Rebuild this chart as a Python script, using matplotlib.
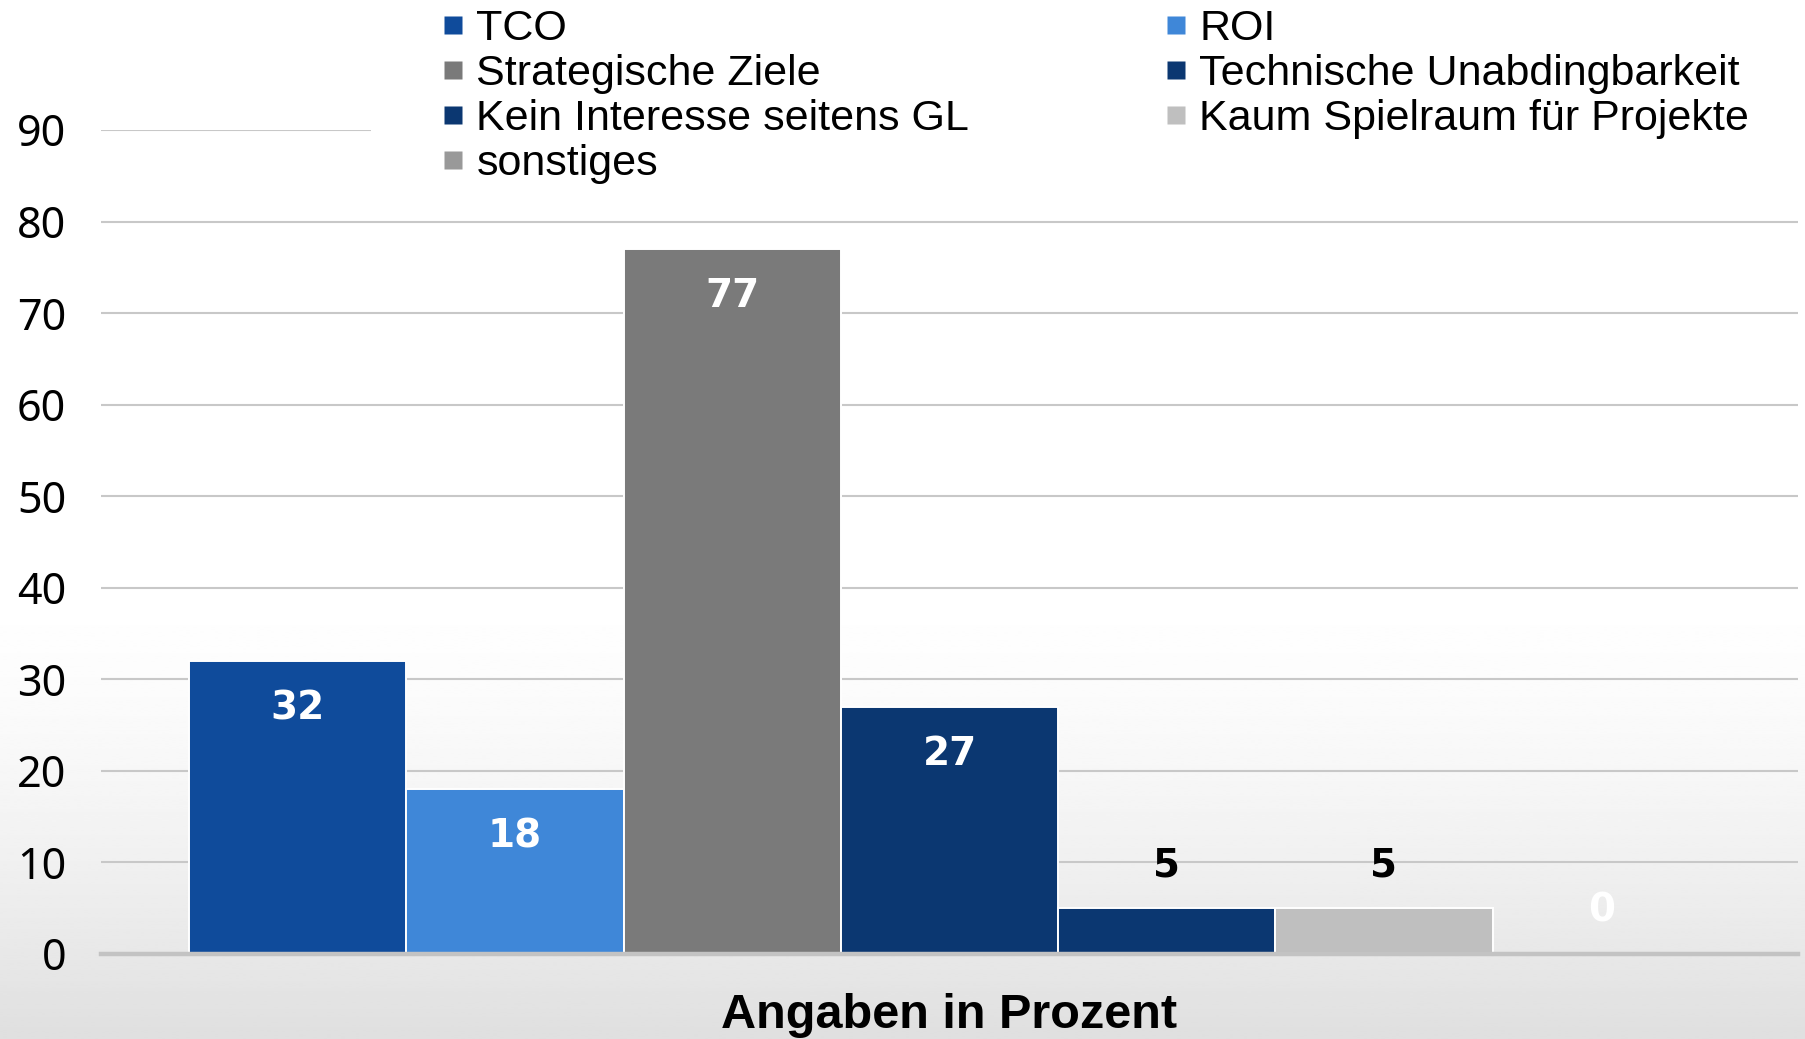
import numpy as np
import matplotlib.pyplot as plt
from matplotlib.lines import Line2D
from matplotlib.patches import Rectangle

W, H = 1805, 1039
DPI = 100

# data
series = [
    "TCO",
    "ROI",
    "Strategische Ziele",
    "Technische Unabdingbarkeit",
    "Kein Interesse seitens GL",
    "Kaum Spielraum für Projekte",
    "sonstiges",
]
values = [32, 18, 77, 27, 5, 5, 0]
colors = ["#0F4B9B", "#3F87D8", "#7A7A7A", "#0B3771", "#0B3771", "#BFBFBF", "#999999"]
label_inside = [True, True, True, True, False, False, False]
label_colors = ["white", "white", "white", "white", "black", "black", "white"]
yticks = list(range(0, 100, 10))

LEGEND_FONT = ["Liberation Sans Narrow", "Liberation Sans", "DejaVu Sans"]
TICK_FONT = ["Noto Sans", "DejaVu Sans"]
VALUE_FONT = ["DejaVu Sans"]
XLABEL_FONT = ["Liberation Sans", "DejaVu Sans"]


def px(x, y):
    # pixel position (from top-left) -> figure fraction
    return x / W, 1 - y / H


def main() -> None:
    fig = plt.figure(figsize=(W / DPI, H / DPI), dpi=DPI)

    # soft grey background, white at top
    bg = fig.add_axes([0, 0, 1, 1], zorder=-10)
    t = np.linspace(0, 1, 400)
    shade = np.where(t < 0.55, 1.0, 1.0 - 0.125 * ((t - 0.55) / 0.45) ** 1.6)
    bg.imshow(np.repeat(shade[:, None], 2, axis=1), cmap="gray", vmin=0, vmax=1,
              aspect="auto", extent=(0, 1, 0, 1), interpolation="bilinear")
    bg.set_axis_off()

    x0, y_top = px(101, 130)
    x1, y_bot = px(1798, 954)
    ax = fig.add_axes([x0, y_bot, x1 - x0, y_top - y_bot])
    ax.set_facecolor("none")

    n = len(series)
    width = 0.128
    xs = [(i - (n - 1) / 2) * width for i in range(n)]
    bars = ax.bar(xs, values, width=width, color=colors, edgecolor="white", linewidth=1.4, zorder=3)

    for b, v, inside, c in zip(bars, values, label_inside, label_colors):
        cx = b.get_x() + b.get_width() / 2
        dy = -34 if inside else 31
        ax.annotate(str(v), (cx, v), xytext=(0, dy), textcoords="offset points",
                    ha="center", va="center", fontsize=28, fontweight="bold",
                    color=c, family=VALUE_FONT, zorder=4)

    ax.set_xlim(-0.5, 0.5)
    ax.set_ylim(0, 90)
    ax.set_yticks(yticks)
    ax.set_xticks([])
    ax.yaxis.grid(True, color="#C8C8C8", linewidth=1.5)
    ax.set_axisbelow(True)
    for side in ["top", "right", "left"]:
        ax.spines[side].set_visible(False)
    ax.spines["bottom"].set_color("#C3C3C3")
    ax.spines["bottom"].set_linewidth(3.2)
    ax.spines["bottom"].set_zorder(3.5)
    ax.tick_params(axis="y", length=0, pad=25, labelsize=31)
    for lab in ax.get_yticklabels():
        lab.set_family(TICK_FONT)

    ax.set_xlabel("Angaben in Prozent", fontsize=35, fontweight="bold",
                  family=XLABEL_FONT, labelpad=28)

    # white block behind the legend hides the top gridline
    lx, ly = px(371, 0)
    rx, ry = px(1805, 185)
    fig.patches.append(Rectangle((lx, ry), rx - lx, ly - ry, transform=fig.transFigure,
                                 facecolor="white", edgecolor="none", zorder=1))

    order = [0, 2, 4, 6, 1, 3, 5]
    handles = [Line2D([], [], linestyle="none", marker="s", markersize=13.5,
                      markerfacecolor=colors[i], markeredgecolor="none") for i in order]
    labels = [series[i] for i in order]
    leg = fig.legend(handles, labels, ncol=2, loc="upper left",
                     bbox_to_anchor=px(442, 9), frameon=False,
                     prop={"family": LEGEND_FONT, "size": 31},
                     handlelength=0.5, handletextpad=0.3, labelspacing=0.12,
                     columnspacing=4.54, borderpad=0, borderaxespad=0)
    leg.set_zorder(5)

    fig.savefig("out.png", dpi=DPI)


if __name__ == "__main__":
    main()
